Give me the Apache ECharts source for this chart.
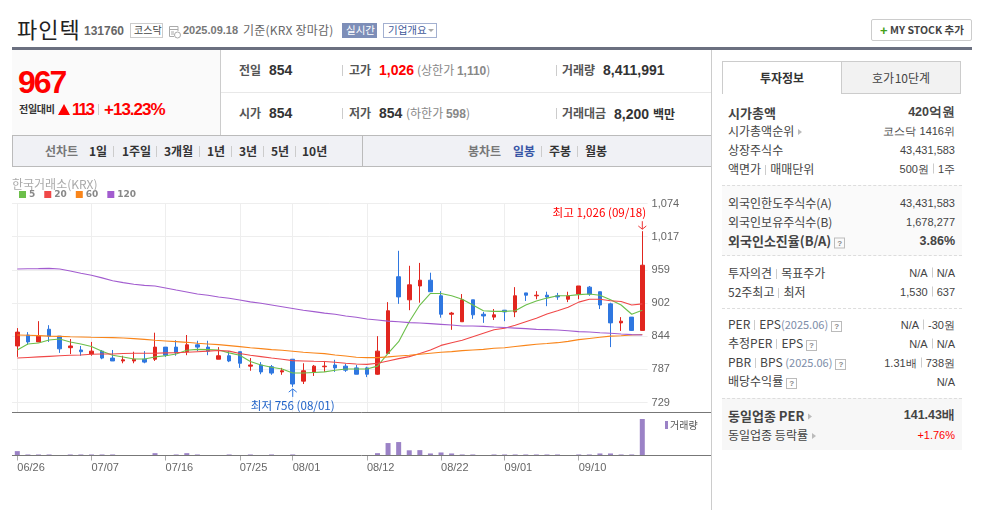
<!DOCTYPE html>
<html>
<head>
<meta charset="utf-8">
<title>파인텍</title>
<script src="https://cdn.jsdelivr.net/npm/echarts@6/dist/echarts.min.js"></script>
<style>
    html, body { margin: 0; padding: 0; background: #fff; }
    body { width: 987px; height: 510px; overflow: hidden; position: relative; font-family: "Noto Sans CJK KR", "Liberation Sans", sans-serif; color: #333; }
    .box { position: absolute; box-sizing: border-box; }
    .t { position: absolute; white-space: nowrap; line-height: 1; transform: translateY(-50%); font-size: 12px; }
    .r { left: auto; right: 32px; }
    .n { font-family: "Liberation Sans", sans-serif; }
    .b { font-weight: bold; }
    .stat { font-size: 12px; font-weight: bold; color: #555; }
    .num { font-family: "Liberation Sans", sans-serif; font-size: 14px; font-weight: bold; color: #333; }
    .gray { color: #888; font-size: 12px; }
    .red { color: #f00; }
    .menu { font-size: 12px; font-weight: bold; color: #333; }
    .sep { position: absolute; width: 1px; height: 11px; background: #ccc; }
    .s { display: inline-block; width: 1px; height: 10px; background: #ccc; margin: 0 4px; vertical-align: -1px; }
    .q { display: inline-block; width: 9px; height: 9px; border: 1px solid #bbb; font: bold 8px/9px "Liberation Sans"; text-align: center; color: #888; margin-left: 3px; vertical-align: 0; }
    .ar { display: inline-block; border-left: 4px solid #bbb; border-top: 3px solid transparent; border-bottom: 3px solid transparent; margin-left: 4px; vertical-align: 1px; }
    .yr { color: #7d8da8; font-size: 11px; }
    #chart { position: absolute; left: 0; top: 0; width: 987px; height: 510px; }
</style>
</head>
<body>
<!-- 상단 -->
<span class="t" style="left:17px;top:28px;font-size:22px;color:#222;letter-spacing:1px">파인텍</span>
<span class="t n b" style="left:84px;top:31px;color:#666;font-size:12px">131760</span>
<div class="box" style="left:130px;top:23px;width:33px;height:15px;border:1px solid #ccc"></div>
<span class="t" style="left:134px;top:30px;font-size:10px;color:#444">코스닥</span>
<svg class="box" style="left:168px;top:25px" width="13" height="14"><path d="M1.5 1.5H10V6M1.5 1.5V11.5H6M1.5 4.5H10M3 7H6M3 9H6" fill="none" stroke="#aaa"/><circle cx="9.5" cy="10" r="3" fill="#fff" stroke="#aaa"/></svg>
<span class="t n b" style="left:183px;top:30px;color:#777;font-size:11px">2025.09.18</span>
<span class="t" style="left:243px;top:30px;color:#666;font-size:12px;letter-spacing:.2px">기준(KRX 장마감)</span>
<div class="box" style="left:342px;top:23px;width:35px;height:15px;background:#7d8eb8"></div>
<span class="t" style="left:346px;top:30px;font-size:10.5px;color:#fff">실시간</span>
<div class="box" style="left:383px;top:23px;width:54px;height:15px;border:1px solid #a3b0d0"></div>
<span class="t" style="left:388px;top:30px;font-size:10.5px;color:#3f5a9a">기업개요</span>
<div class="box" style="left:428px;top:29px;border-top:3px solid #aaa;border-left:3px solid transparent;border-right:3px solid transparent"></div>
<div class="box" style="left:871px;top:19px;width:101px;height:22px;border:1px solid #ccc;border-radius:2px"></div>
<span class="t n b" style="left:880px;top:30px;color:#44a11a;font-size:13px">+</span>
<span class="t b" style="left:890px;top:30px;font-size:10.5px;color:#444">MY STOCK 추가</span>
<div class="box" style="left:12px;top:47px;width:960px;height:3px;background:#6b7080"></div>

<!-- 시세 -->
<div class="box" style="left:12px;top:50px;width:208px;height:85px;background:#fafafa"></div>
<div class="box" style="left:220px;top:50px;width:1px;height:85px;background:#ccc"></div>
<div class="box" style="left:221px;top:92px;width:491px;height:1px;background:#e8e8e8"></div>
<span class="t n b red" style="left:18px;top:82px;font-size:32px;letter-spacing:-2px">967</span>
<span class="t b" style="left:19px;top:109px;font-size:10px;color:#333;letter-spacing:-.3px">전일대비</span>
<div class="box" style="left:58px;top:104px;border-bottom:11px solid #f00;border-left:6.5px solid transparent;border-right:6.5px solid transparent"></div>
<span class="t n b red" style="left:72px;top:109px;font-size:16.5px;letter-spacing:-1.8px">113</span>
<div class="sep" style="left:98px;top:104px"></div>
<span class="t n b red" style="left:104px;top:109px;font-size:17px;letter-spacing:-1px">+13.23%</span>

<span class="t stat" style="left:239px;top:70px">전일</span>
<span class="t num" style="left:269px;top:70px">854</span>
<div class="sep" style="left:342px;top:65px"></div>
<span class="t stat" style="left:349px;top:70px">고가</span>
<span class="t num red" style="left:379px;top:70px">1,026</span>
<span class="t gray" style="left:417px;top:70px">(상한가 <span class="n b">1,110</span>)</span>
<div class="sep" style="left:556px;top:65px"></div>
<span class="t stat" style="left:562px;top:70px">거래량</span>
<span class="t num" style="left:603px;top:70px">8,411,991</span>

<span class="t stat" style="left:239px;top:113px">시가</span>
<span class="t num" style="left:269px;top:113px">854</span>
<div class="sep" style="left:342px;top:108px"></div>
<span class="t stat" style="left:349px;top:113px">저가</span>
<span class="t num" style="left:379px;top:113px">854</span>
<span class="t gray" style="left:406px;top:113px">(하한가 <span class="n b">598</span>)</span>
<div class="sep" style="left:556px;top:108px"></div>
<span class="t stat" style="left:562px;top:113px">거래대금</span>
<span class="t num" style="left:614px;top:113px">8,200 <span style="font:bold 12px 'Noto Sans CJK KR'">백만</span></span>

<!-- 기간 메뉴 -->
<div class="box" style="left:12px;top:135px;width:700px;height:32px;background:#f0f1f5;border:1px solid #bbb;border-right:0"></div>
<div class="box" style="left:362px;top:135px;width:1px;height:32px;background:#bbb"></div>
<span class="t menu" style="left:45px;top:151px;color:#777">선차트</span>
<span class="t menu" style="left:89px;top:151px">1일</span><div class="sep" style="left:113px;top:146px"></div>
<span class="t menu" style="left:122px;top:151px">1주일</span><div class="sep" style="left:156px;top:146px"></div>
<span class="t menu" style="left:164px;top:151px">3개월</span><div class="sep" style="left:199px;top:146px"></div>
<span class="t menu" style="left:207px;top:151px">1년</span><div class="sep" style="left:231px;top:146px"></div>
<span class="t menu" style="left:239px;top:151px">3년</span><div class="sep" style="left:263px;top:146px"></div>
<span class="t menu" style="left:271px;top:151px">5년</span><div class="sep" style="left:295px;top:146px"></div>
<span class="t menu" style="left:302px;top:151px">10년</span>
<span class="t menu" style="left:468px;top:151px;color:#777">봉차트</span>
<span class="t menu" style="left:513px;top:151px;color:#3855a5">일봉</span><div class="sep" style="left:541px;top:146px"></div>
<span class="t menu" style="left:549px;top:151px">주봉</span><div class="sep" style="left:577px;top:146px"></div>
<span class="t menu" style="left:585px;top:151px">월봉</span>

<div class="box" style="left:711px;top:50px;width:1px;height:460px;background:#ccc"></div>

<!-- 투자정보 -->
<div class="box" style="left:722px;top:61px;width:120px;height:33px;border:1px solid #ccc;border-bottom:0;border-right:0"></div>
<div class="box" style="left:841px;top:61px;width:120px;height:33px;background:#f2f2f2;border:1px solid #ccc"></div>
<span class="t b" style="left:782px;top:78px;font-size:12px;color:#333;transform:translate(-50%,-50%)">투자정보</span>
<span class="t" style="left:901px;top:78px;font-size:12px;color:#444;word-spacing:-2px;transform:translate(-50%,-50%)">호가 10단계</span>
<div class="box" style="left:722px;top:185px;width:240px;height:71px;background:#fafafa;border-top:1px dashed #ddd;border-bottom:1px dashed #ddd"></div>
<div class="box" style="left:722px;top:308px;width:240px;height:0;border-top:1px dashed #ddd"></div>
<div class="box" style="left:722px;top:398px;width:240px;height:52px;background:#f7f7f7;border-top:1px dashed #ddd"></div>
<div id="panel"></div>

<div id="chart"></div>

<script>
    // 일봉 차트 데이터
    const dates = ['06/26', '06/27', '06/30', '07/01', '07/02', '07/03', '07/04', '07/07', '07/08', '07/09',
        '07/10', '07/11', '07/14', '07/15', '07/16', '07/17', '07/18', '07/21', '07/22', '07/23',
        '07/24', '07/25', '07/28', '07/29', '07/30', '07/31', '08/01', '08/04', '08/05', '08/06',
        '08/07', '08/08', '08/11', '08/12', '08/13', '08/14', '08/18', '08/19', '08/20', '08/21',
        '08/22', '08/25', '08/26', '08/27', '08/28', '08/29', '09/01', '09/02', '09/03', '09/04',
        '09/05', '09/08', '09/09', '09/10', '09/11', '09/12', '09/15', '09/16', '09/17', '09/18'];
    const tickDates = ['06/26', '07/07', '07/16', '07/25', '08/01', '08/12', '08/22', '09/01', '09/10'];
    const priceTicks = [729, 786.5, 844, 901.5, 959, 1016.5, 1074];
    // 시가, 종가, 저가, 고가
    const candles = [
        [827, 851, 808, 858], [846, 834, 829, 851], [834, 844, 834, 870], [856, 844, 834, 863], [844, 822, 815, 844],
        [824, 827, 813, 839], [820, 817, 810, 827], [813, 818, 810, 834], [818, 806, 804, 820], [806, 801, 801, 820],
        [801, 803, 797, 810], [801, 804, 797, 817], [804, 799, 797, 818], [804, 825, 801, 850], [825, 811, 808, 825],
        [825, 815, 810, 837], [817, 829, 811, 846], [829, 825, 818, 836], [825, 818, 811, 836], [804, 810, 804, 825],
        [810, 801, 799, 818], [817, 797, 789, 817], [792, 794, 784, 806], [794, 782, 778, 799], [791, 780, 777, 794],
        [782, 784, 777, 789], [804, 761, 756, 804], [766, 784, 761, 797], [782, 792, 775, 794], [791, 792, 782, 801],
        [794, 789, 782, 803], [792, 785, 782, 796], [789, 778, 778, 794], [789, 778, 773, 791], [778, 818, 777, 844],
        [814, 888, 814, 903], [947, 912, 900, 992], [907, 933, 889, 966], [931, 941, 902, 971], [941, 921, 921, 954],
        [914, 882, 876, 922], [882, 884, 855, 886], [869, 907, 869, 917], [907, 881, 874, 907], [882, 879, 867, 886],
        [877, 881, 872, 891], [889, 886, 870, 889], [886, 914, 877, 929], [919, 915, 905, 919], [914, 915, 908, 922],
        [915, 912, 896, 921], [914, 912, 907, 919], [908, 914, 903, 921], [917, 931, 908, 931], [929, 917, 914, 931],
        [921, 898, 891, 921], [900, 867, 825, 902], [867, 870, 853, 877], [877, 854, 853, 877], [854, 967, 854, 1026]
    ];
    const ma5 = [820, 830.5, 832, 837.4, 839, 834, 830.5, 826, 818, 811, 808, 804.5, 804.5, 808, 810, 813, 819.5, 821, 820.6, 820,
        815, 811, 800, 794, 790, 787, 780, 780, 781, 782, 785, 787, 787, 787, 792, 814, 834.5, 869, 898, 918,
        918, 914, 908, 898, 888, 887, 887, 888, 898, 905, 910, 914, 914, 916, 917, 915, 907, 898, 882, 889];
    const ma20 = [806, 807, 808, 809, 810, 811, 811.4, 812.5, 813, 813, 814, 814.3, 814.3, 814.3, 815, 815.4, 816, 817, 818, 819,
        818, 814, 811, 808.5, 806, 804, 801.6, 801, 800.4, 800, 798.7, 797, 795.8, 795, 797, 801, 805, 808.5, 814, 820,
        828, 832.7, 837, 843, 849, 855, 857.6, 863, 869, 875, 882.4, 888, 894, 903, 908, 908, 905.5, 904, 898, 900];
    const ma60 = [846, 845.5, 845, 844, 843.7, 843, 842.6, 842, 841.7, 841.4, 840.9, 839.7, 838.5, 836.8, 835.7, 834.5, 833.3, 831.6, 830.5, 829.3,
        827.6, 825.8, 824, 822.4, 820.6, 819.5, 817.7, 816, 814.9, 813.7, 811.4, 809.6, 807.3, 806.8, 806.8, 808, 809.6, 810.8, 812.5, 814.3,
        816, 817.2, 818.9, 820, 821, 823, 824, 826, 828, 830, 831.3, 832.7, 835, 838, 840, 842, 844, 844.8, 846, 847];
    const ma120 = [960.5, 960.8, 961, 961.6, 960.5, 957, 953, 949.5, 945, 940.2, 936.8, 933.9, 932, 931, 927.5, 924, 920.6, 917, 914.8, 911.9,
        909.6, 906.7, 903.5, 901, 898, 895, 892, 888.8, 886.5, 884, 881.9, 879, 876.7, 873.8, 872, 870, 869, 867.4, 866.9, 865.7,
        864.5, 863.4, 861.7, 861.6, 861, 859.9, 859, 858, 857, 855.8, 855.3, 854.7, 853.5, 851.8, 851.2, 850, 849, 847.7, 846.6, 846];
    const volumes = [1010000, 240000, 240000, 240000, 30000, 240000, 240000, 240000, 240000, 240000,
        30000, 30000, 30000, 540000, 30000, 240000, 540000, 240000, 30000, 30000,
        240000, 30000, 240000, 30000, 240000, 30000, 240000, 30000, 30000, 30000,
        30000, 30000, 30000, 30000, 540000, 2870000, 3100000, 1200000, 1240000, 470000,
        700000, 470000, 240000, 240000, 30000, 240000, 240000, 240000, 240000, 240000,
        240000, 240000, 30000, 240000, 240000, 470000, 470000, 240000, 240000, 8411991];
    const maNames = ['5', '20', '60', '120'];
    const maColors = ['#6cbf4a', '#f04848', '#f9851a', '#a25ccf'];

    // 투자정보 표
    const sp = '<i class="s"></i>', q = '<i class="q">?</i>', ar = '<i class="ar"></i>';
    const infoRows = [
        [112, '시가총액', '<span class="n">420</span>억원', 1],
        [131, '시가총액순위' + ar, '코스닥 <span class="n">1416</span>위', 0],
        [150, '상장주식수', '43,431,583', 0],
        [169, '액면가' + sp + '매매단위', '500원' + sp + '1주', 0],
        [203, '외국인한도주식수(A)', '43,431,583', 0],
        [222, '외국인보유주식수(B)', '1,678,277', 0],
        [241, '외국인소진율(B/A)' + q, '3.86%', 1],
        [273, '투자의견' + sp + '목표주가', 'N/A' + sp + 'N/A', 0],
        [292, '52주최고' + sp + '최저', '1,530' + sp + '637', 0],
        [325, 'PER' + sp + 'EPS<span class="yr">(2025.06)</span>' + q, 'N/A' + sp + '-30원', 0],
        [344, '추정PER' + sp + 'EPS' + q, 'N/A' + sp + 'N/A', 0],
        [363, 'PBR' + sp + 'BPS <span class="yr">(2025.06)</span>' + q, '1.31배' + sp + '738원', 0],
        [382, '배당수익률' + q, 'N/A', 0],
        [415, '동일업종 PER' + ar, '141.43배', 1],
        [435, '동일업종 등락률' + ar, '<span class="red">+1.76%</span>', 0]
    ];

    infoTable()
    function infoTable() {
        let html = '';
        infoRows.forEach(function (row) {
            const bold = row[3] ? 'font-weight:bold;font-size:13px' : 'font-weight:normal;font-size:12px';
            const valueBold = row[3] ? 'font-weight:bold;font-size:12.5px' : 'font-weight:normal;font-size:11px';
            html += '<span class="t" style="left:728px;top:' + row[0] + 'px;' + bold + ';color:#444">' + row[1] + '</span>';
            html += '<span class="t r n" style="top:' + row[0] + 'px;' + valueBold + ';color:#444">' + row[2] + '</span>';
        });
        document.querySelector('#panel').innerHTML = html;
    }

    // 일봉
    candleChart()
    function candleChart() {
        var myChart = echarts.init(document.querySelector('#chart'));
        const isTick = function (idx, val) { return tickDates.indexOf(val) >= 0; };
        const maSeries = maNames.map(function (name, i) {
            return {
                name: name,
                type: 'line',
                data: [ma5, ma20, ma60, ma120][i],
                showSymbol: false,
                lineStyle: { width: 1.1, color: maColors[i] },
                itemStyle: { color: maColors[i] },
                z: 3
            };
        });
        var option = {
            animation: false,
            title: {
                text: '한국거래소(KRX)',
                left: 12,
                top: 178,
                padding: 0,
                textStyle: { color: '#aaa', fontSize: 12, fontWeight: 'normal', fontFamily: 'Noto Sans CJK KR' }
            },
            legend: [
                {
                    data: maNames,
                    left: 19,
                    top: 190,
                    padding: 0,
                    icon: 'rect',
                    itemWidth: 7,
                    itemHeight: 7,
                    itemGap: 9,
                    selectedMode: false,
                    textStyle: { color: '#888', fontSize: 9, fontWeight: 'bold', fontFamily: 'DejaVu Sans', padding: [0, 0, 0, -2] }
                },
                {
                    data: ['거래량'],
                    left: 665,
                    top: 420,
                    padding: 0,
                    icon: 'rect',
                    itemWidth: 3,
                    itemHeight: 8,
                    selectedMode: false,
                    textStyle: { color: '#555', fontSize: 10, fontFamily: 'Noto Sans CJK KR', padding: [0, 0, 0, -3] }
                }
            ],
            grid: [
                { left: 12, width: 635.6, top: 203.5, height: 208.5 },
                { left: 12, width: 635.6, top: 413, height: 42.5 }
            ],
            xAxis: [
                {
                    type: 'category',
                    gridIndex: 0,
                    data: dates,
                    axisLine: { show: false },
                    axisTick: { show: false },
                    axisLabel: { show: false },
                    splitLine: { show: true, interval: isTick, alignWithLabel: true, lineStyle: { color: '#eeeeee', width: 1 } }
                },
                {
                    type: 'category',
                    gridIndex: 1,
                    data: dates,
                    axisLine: { show: false },
                    axisTick: { show: true, interval: isTick, alignWithLabel: true, length: 5, lineStyle: { color: '#aaa' } },
                    axisLabel: {
                        interval: isTick,
                        align: 'left',
                        margin: 7,
                        color: '#666',
                        fontSize: 11,
                        fontFamily: 'Liberation Sans'
                    },
                    splitLine: { show: false }
                }
            ],
            yAxis: [
                {
                    type: 'value',
                    gridIndex: 0,
                    position: 'right',
                    min: 712.5,
                    max: 1074,
                    axisLine: { show: false },
                    axisTick: { show: false, customValues: priceTicks },
                    axisLabel: {
                        customValues: priceTicks,
                        margin: 4,
                        padding: [2, 0, 0, 0],
                        color: '#666',
                        fontSize: 11,
                        fontFamily: 'Liberation Sans',
                        formatter: function (v) { return Math.round(v).toLocaleString('en-US'); }
                    },
                    splitLine: { show: true, lineStyle: { color: '#eeeeee', width: 1 } }
                },
                {
                    type: 'value',
                    gridIndex: 1,
                    min: 0,
                    max: 9800000,
                    show: false
                }
            ],
            graphic: [
                { type: 'line', shape: { x1: 12, y1: 412.5, x2: 711, y2: 412.5 }, style: { stroke: '#777', lineWidth: 1 }, z: 10 },
                { type: 'line', shape: { x1: 12, y1: 455.5, x2: 711, y2: 455.5 }, style: { stroke: '#777', lineWidth: 1 }, z: 10 }
            ],
            series: [
                {
                    name: '일봉',
                    type: 'candlestick',
                    xAxisIndex: 0,
                    yAxisIndex: 0,
                    data: candles,
                    barWidth: 4,
                    itemStyle: { color: '#e1261f', color0: '#2f77e0', borderColor: '#e1261f', borderColor0: '#2f77e0', borderWidth: 1 },
                    z: 2,
                    markPoint: {
                        animation: false,
                        symbol: 'path://M5 0V10M1 6L5 10L9 6',
                        symbolSize: [8, 8],
                        silent: true,
                        data: [
                            {
                                coord: [59, 1026],
                                symbolOffset: [0, -6],
                                itemStyle: { color: 'none', borderColor: '#e33', borderWidth: 1 },
                                label: { show: true, position: 'top', distance: 0, offset: [-43, 0], formatter: '최고 1,026 (09/18)', color: '#f00', fontSize: 11.6, fontFamily: 'Noto Sans CJK KR' }
                            },
                            {
                                coord: [26, 756],
                                symbolRotate: 180,
                                symbolOffset: [0, 6],
                                itemStyle: { color: 'none', borderColor: '#2f77e0', borderWidth: 1 },
                                label: { show: true, position: 'bottom', distance: 0, formatter: '최저 756 (08/01)', color: '#1f62c8', fontSize: 11.6, fontFamily: 'Noto Sans CJK KR' }
                            }
                        ]
                    }
                }
            ].concat(maSeries).concat([
                {
                    name: '거래량',
                    type: 'bar',
                    xAxisIndex: 1,
                    yAxisIndex: 1,
                    data: volumes,
                    barWidth: 5,
                    itemStyle: { color: '#9b82c6' }
                }
            ])
        };
        myChart.setOption(option);
    }
</script>
</body>
</html>
